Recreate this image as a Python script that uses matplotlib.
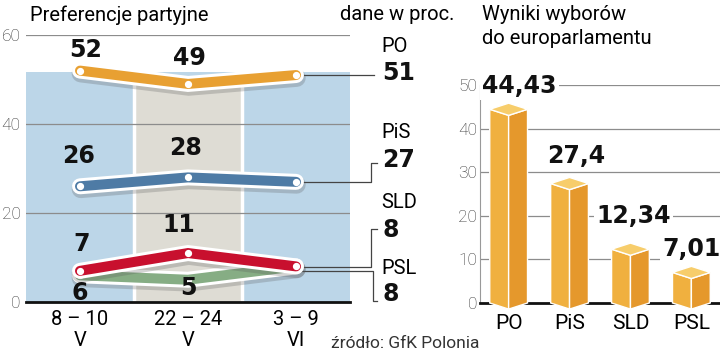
import matplotlib.pyplot as plt
import matplotlib.patheffects as pe
from matplotlib.patches import Polygon

# Data
periods = ['8 – 10\nV', '22 – 24\nV', '3 – 9\nVI']
parties = ['PO', 'PiS', 'SLD', 'PSL']
po = [52, 49, 51]
pis = [26, 28, 27]
sld = [7, 11, 8]
psl = [6, 5, 8]
colors = ['#E8A032', '#4E7BA5', '#C8102E', '#86AD84']

election_parties = ['PO', 'PiS', 'SLD', 'PSL']
election_votes = [44.43, 27.4, 12.34, 7.01]
election_labels = ['44,43', '27,4', '12,34', '7,01']

REG = ['Roboto', 'DejaVu Sans']
NUM = ['DejaVu Sans']

fig = plt.figure(figsize=(7.2, 3.55), dpi=100)
W, H = 720, 355


def fx(px):
    return px / W


def fy(py):
    return 1 - py / H


# ---------------- left: line chart ----------------
ax = fig.add_axes([fx(26), fy(302), fx(324), 267 / H])
ax.set_xlim(-0.5, 2.5)
ax.set_ylim(0, 60)

ax.fill_between([-0.5, 2.5], 0, 51.7, color='#BCD6E8', zorder=0, lw=0)
ax.fill_between([0.5, 1.5], 0, 49.5, color='#DEDCD4', zorder=0.5, lw=0)
ax.vlines([0.5, 1.5], 0, 51.7, color='white', lw=2.5, zorder=0.6)
for g in [20, 40, 60]:
    ax.axhline(g, color='#8c8c8c', lw=0.9, zorder=1)

for s in ['top', 'right', 'left']:
    ax.spines[s].set_visible(False)
ax.spines['bottom'].set_linewidth(2)
ax.spines['bottom'].set_color('#111111')
ax.spines['bottom'].set_zorder(5)

ax.set_yticks([0, 20, 40, 60])
ax.set_yticklabels(['0', '20', '40', '60'], family=REG, fontweight='light',
                   fontsize=12.5, color='#333333')
ax.set_xticks(range(len(periods)))
ax.set_xticklabels(periods, family=REG, fontsize=14.5, linespacing=1.1)
ax.tick_params(length=0)
ax.tick_params(axis='y', pad=4)
ax.tick_params(axis='x', pad=6)

x = list(range(len(periods)))
series = [po, pis, psl, sld]
scolors = [colors[0], colors[1], colors[3], colors[2]]
effects = [pe.SimpleLineShadow(offset=(0.5, -2), shadow_color='#555555', alpha=0.25, linewidth=13),
           pe.Stroke(linewidth=11.5, foreground='white'), pe.Normal()]
for i, (vals, c) in enumerate(zip(series, scolors)):
    ax.plot(x, vals, color=c, lw=7.2, solid_capstyle='round', solid_joinstyle='miter',
            path_effects=effects, zorder=3 + i, clip_on=False)
    ax.plot(x, vals, 'o', color='white', ms=4.2, zorder=3.5 + i, clip_on=False)

# in-chart value labels (offsets in points)
def vlabel(xi, v, dx, dy):
    ax.annotate(str(v), (xi, v), xytext=(dx, dy), textcoords='offset points',
                ha='center', va='center', family=NUM, fontweight='bold',
                fontsize=17, color='#111111', zorder=10)

vlabel(0, po[0], 4, 15)
vlabel(1, po[1], 1, 19)
vlabel(0, pis[0], -1, 22)
vlabel(1, pis[1], -2, 21)
vlabel(0, sld[0], 1, 19)
vlabel(1, sld[1], -7, 20)
vlabel(0, psl[0], 0, -13)
vlabel(1, psl[1], 0, -6)

# connectors to the right-hand labels
conn = [
    ([2, 2.72], [po[2], po[2]]),
    ([2, 2.69, 2.69, 2.75], [pis[2], pis[2], 31.2, 31.2]),
    ([2, 2.69, 2.69, 2.75], [sld[2] - 0.1, sld[2] - 0.1, 16.5, 16.5]),
    ([2, 2.71, 2.71, 2.75], [psl[2] - 1.0, psl[2] - 1.0, 0.2, 0.2]),
]
for xs, ys in conn:
    ax.plot(xs, ys, color='#444444', lw=0.9, zorder=2, clip_on=False)

last = [po[2], pis[2], sld[2], psl[2]]
name_y = [47, 133, 203, 268]
val_y = [73, 160, 230, 294]
for name, v, ny, vy in zip(parties, last, name_y, val_y):
    fig.text(fx(381), fy(ny), name, family=REG, fontsize=14.5, va='center', ha='left')
    fig.text(fx(382), fy(vy), str(v), family=NUM, fontweight='bold', fontsize=17,
             va='center', ha='left', color='#111111')

fig.text(fx(30), fy(15), 'Preferencje partyjne', family=REG, fontsize=14.5, va='center')
fig.text(fx(454), fy(15), 'dane w proc.', family=REG, fontsize=14.5, va='center', ha='right')
fig.text(fx(331), fy(343), 'źródło: GfK Polonia', family=REG, fontsize=12.5, va='center',
         color='#333333')

# ---------------- right: 3D-ish bars ----------------
bx = fig.add_axes([fx(480), fy(303), fx(240), 218 / H])
bx.set_xlim(-0.47, 3.47)
bx.set_ylim(0, 50)
for s in ['top', 'right']:
    bx.spines[s].set_visible(False)
bx.spines['left'].set_color('#999999')
bx.spines['left'].set_linewidth(0.8)
bx.spines['bottom'].set_linewidth(2)
bx.spines['bottom'].set_color('#111111')
for g in [10, 20, 30, 40, 50]:
    bx.axhline(g, color='#8c8c8c', lw=0.9, zorder=0)
bx.set_yticks([0, 10, 20, 30, 40, 50])
bx.set_yticklabels(['0', '10', '20', '30', '40', '50'], family=REG, fontweight='light',
                   fontsize=12.5, color='#333333')
bx.set_xticks(range(len(election_parties)))
bx.set_xticklabels(election_parties, family=REG, fontsize=15)
bx.tick_params(length=0)
bx.tick_params(axis='y', pad=2)
bx.tick_params(axis='x', pad=8)

hw, d = 0.31, 1.4
for i, v in enumerate(election_votes):
    xl, xm, xr = i - hw, i, i + hw
    faces = [
        ([(xl, 0), (xl, v), (xm, v - d), (xm, -d)], '#F0B03F'),
        ([(xm, -d), (xm, v - d), (xr, v), (xr, 0)], '#E5982C'),
        ([(xl, v), (xm, v + d), (xr, v), (xm, v - d)], '#F7CD6B'),
    ]
    for pts, c in faces:
        bx.add_patch(Polygon(pts, closed=True, facecolor=c, edgecolor='white', lw=1,
                             zorder=3, clip_on=False))

offsets = [(8, 17), (5, 20), (2, 24), (0, 17)]
for i, (v, lab) in enumerate(zip(election_votes, election_labels)):
    bx.annotate(lab, (i, v), xytext=offsets[i], textcoords='offset points',
                ha='center', va='center', family=NUM, fontweight='bold', fontsize=17,
                color='#111111', zorder=10,
                bbox=dict(boxstyle='square,pad=0.1', fc='white', ec='none'))

fig.text(fx(482), fy(15), 'Wyniki wyborów', family=REG, fontsize=14.5, va='center')
fig.text(fx(482), fy(38), 'do europarlamentu', family=REG, fontsize=14.5, va='center')

fig.savefig('out.png', dpi=100)
